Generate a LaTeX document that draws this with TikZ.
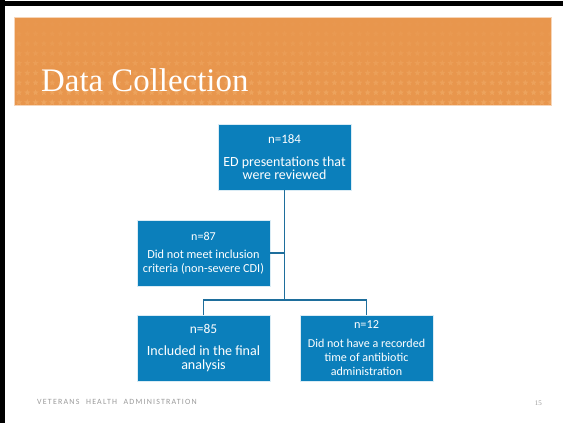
\documentclass[tikz,border=0pt]{standalone}
\usepackage{fontspec}
\setmainfont{Carlito}
\newfontfamily\titlefont{Liberation Serif}
\newfontfamily\footfont[LetterSpace=15,WordSpace=2.2]{Carlito}
\usetikzlibrary{shapes.geometric}
\definecolor{bannerorange}{HTML}{E8964D}
\definecolor{starorange}{HTML}{F0AC68}
\definecolor{boxblue}{HTML}{0B7FBB}
\definecolor{linkblue}{HTML}{1E6E9C}
\definecolor{footgrey}{HTML}{9A9A9A}
% font size with baseline distance, lines never pushed apart
\newcommand{\fs}[2]{\fontsize{#1}{#2}\selectfont\lineskiplimit=-30pt\relax}
\tikzset{
  flowbox/.style={rectangle, fill=boxblue, draw=white!85!boxblue, line width=0.6pt,
    minimum width=133bp, minimum height=66bp, text=white, align=center,
    inner sep=2bp},
  link/.style={draw=linkblue, line width=1.6bp},
  bgstar/.style={star, star points=5, star point ratio=2.3, fill=starorange,
    draw=none, inner sep=0pt, minimum size=6.5bp}
}
\begin{document}
\begin{tikzpicture}[x=1bp, y=-1bp]
\useasboundingbox (0,0) rectangle (563,423);
\fill[white] (0,0) rectangle (563,423);
% slide frame edges
\fill[black] (0,1) rectangle (563,5.5);
\fill[black] (0,0) rectangle (5,423);

% title banner with star pattern
\fill[bannerorange] (14,17.5) rectangle (551,105);
\begin{scope}
  \clip (14,17.5) rectangle (551,105);
  \foreach \r in {0,...,8} {
    \pgfmathsetmacro{\op}{0.08+0.075*\r}
    \foreach \c in {0,...,64} {
      \node[bgstar, opacity=\op] at ({19+8.3*\c},{24+9.8*\r}) {};
    }
  }
\end{scope}
\draw[white!60!bannerorange, line width=0.6pt] (14,17.5) rectangle (551,105);
\node[anchor=base west, text=white, inner sep=0pt,
  font=\titlefont\fontsize{33}{38}\selectfont] (title) at (41,91) {Data Collection};

% flow chart boxes
\node[flowbox, font=\fs{14}{13.5}] (reviewed) at (284.5,157)
  {{\fs{13}{14}n=184}\\[9.8bp]ED presentations that\\were reviewed};
\node[flowbox, font=\fs{12.3}{14}] (excluded) at (203.5,253)
  {{\fs{12.1}{14}n=87}\\[4.3bp]Did not meet inclusion\\criteria (non-severe CDI)};
\node[flowbox, font=\fs{14.1}{14.3}] (included) at (203.5,348)
  {{\fs{13.5}{14}n=85}\\[7.4bp]Included in the final\\analysis};
\node[flowbox, font=\fs{12.1}{13.7}] (missing) at (366.5,348)
  {{\fs{12.3}{14}n=12}\\[5.3bp]Did not have a recorded\\time of antibiotic\\administration};

% connectors
\coordinate (split) at (reviewed.south |- 0,300);
\draw[link] (reviewed.south) -- (split);
\draw[link] (excluded.east) -- (excluded.east -| reviewed.south);
\draw[link] (included.north) |- (split) -| (missing.north);

% footer
\node[anchor=base west, text=footgrey, inner sep=0pt,
  font=\footfont\fontsize{8}{9}\selectfont] (footer) at (37,404) {VETERANS HEALTH ADMINISTRATION};
\node[anchor=base east, text=footgrey, inner sep=0pt,
  font=\titlefont\fontsize{7}{8}\selectfont] (page) at (542,405) {15};
\end{tikzpicture}
\end{document}
